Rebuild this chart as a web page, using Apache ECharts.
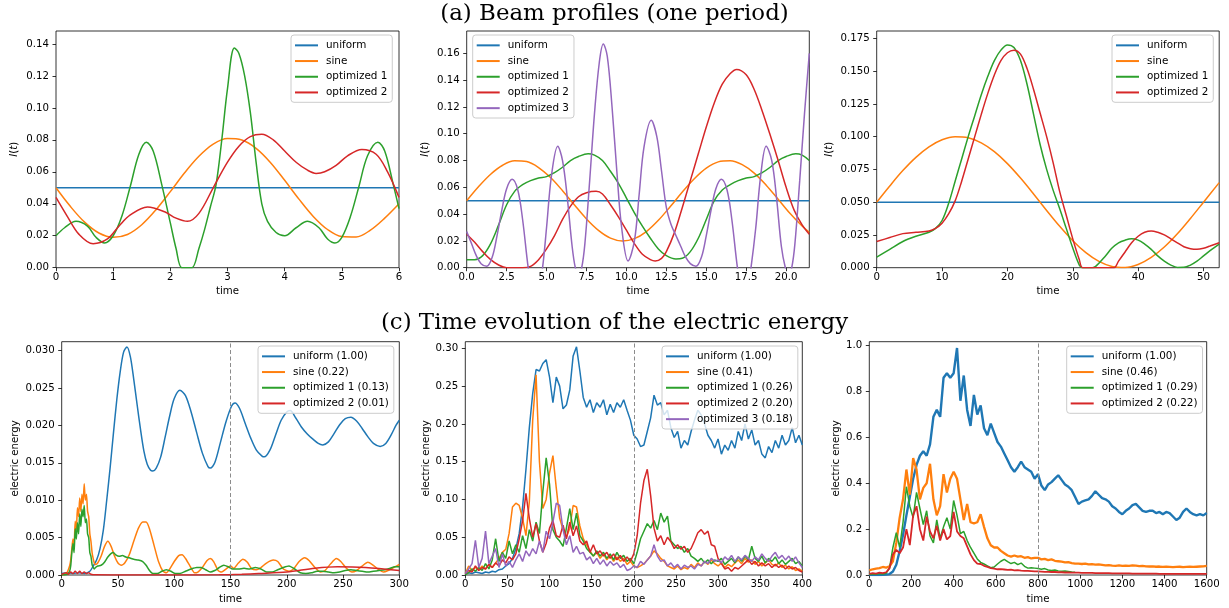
<!DOCTYPE html>
<html><head><meta charset="utf-8">
<script src="https://cdn.jsdelivr.net/npm/echarts@6/dist/echarts.min.js"></script>
<style>html,body{margin:0;padding:0;background:#fff}#c{width:1229px;height:608px}</style>
</head><body><div id="c"></div>
<script>
// ---------- colours ----------
const C_UNI = '#1f77b4', C_SIN = '#ff7f0e', C_OP1 = '#2ca02c', C_OP2 = '#d62728', C_OP3 = '#9467bd';
const FONT = 'DejaVu Sans';

// ---------- titles ----------
const titleTop = '(a) Beam profiles (one period)';
const titleBottom = '(c) Time evolution of the electric energy';

// ---------- panel 1 (beam profile, period 6) ----------
const p1Names = ['uniform', 'sine', 'optimized 1', 'optimized 2'];
const p1Uniform = [[0, 0.05], [6, 0.05]];
const p1Sine = [[0,0.050],[0.25,0.0384],[0.5,0.0285],[0.75,0.0217],[1,0.019],[1.25,0.0208],[1.5,0.0269],[1.75,0.0363],[2,0.0476],[2.25,0.0594],[2.5,0.0697],[2.75,0.0773],[3,0.0808],[3.25,0.0799],[3.5,0.0747],[3.75,0.0659],[4,0.0547],[4.25,0.0429],[4.5,0.0321],[4.75,0.0239],[5,0.0195],[5.25,0.0192],[5.5,0.0235],[5.75,0.031],[6,0.040]];
const p1Opt1 = [[0,0.020],[0.15,0.025],[0.35,0.029],[0.55,0.026],[0.7,0.019],[0.85,0.0155],[1.0,0.020],[1.15,0.032],[1.3,0.051],[1.45,0.071],[1.58,0.0785],[1.7,0.073],[1.85,0.052],[2.0,0.028],[2.1,0.012],[2.2,0.0],[2.3,0.0],[2.38,0.0],[2.5,0.012],[2.6,0.024],[2.7,0.038],[2.8,0.052],[2.9,0.080],[3.0,0.112],[3.12,0.1375],[3.2,0.134],[3.3,0.120],[3.4,0.097],[3.5,0.066],[3.6,0.040],[3.7,0.029],[3.85,0.022],[4.0,0.020],[4.2,0.025],[4.4,0.029],[4.6,0.025],[4.75,0.018],[4.88,0.0155],[5.0,0.019],[5.15,0.032],[5.3,0.051],[5.45,0.070],[5.63,0.0785],[5.75,0.073],[5.9,0.052],[6.0,0.037]];
const p1Opt2 = [[0,0.044],[0.2,0.032],[0.4,0.021],[0.65,0.015],[0.9,0.018],[1.1,0.026],[1.3,0.033],[1.6,0.038],[1.9,0.035],[2.1,0.031],[2.3,0.029],[2.5,0.034],[2.75,0.050],[3.0,0.066],[3.2,0.076],[3.4,0.082],[3.6,0.0835],[3.8,0.080],[4.0,0.073],[4.2,0.066],[4.4,0.061],[4.55,0.059],[4.7,0.060],[4.9,0.064],[5.1,0.070],[5.35,0.074],[5.6,0.071],[5.8,0.060],[6.0,0.044]];
const p1XTicks = [0,1,2,3,4,5,6];
const p1YTicks = [0,0.02,0.04,0.06,0.08,0.10,0.12,0.14];

// ---------- panel 2 (beam profile, period ~21.45) ----------
const p2Names = ['uniform', 'sine', 'optimized 1', 'optimized 2', 'optimized 3'];
const p2Uniform = [[0,0.05],[21.45,0.05]];
const p2Sine = [[0,0.050],[0.75,0.0606],[1.5,0.0698],[2.25,0.0765],[3,0.0798],[3.75,0.0792],[4.5,0.0748],[5.25,0.0673],[6,0.0575],[6.75,0.0468],[7.5,0.0364],[8.25,0.0279],[9,0.0221],[9.75,0.0200],[10.5,0.0217],[11.25,0.0270],[12,0.0354],[12.75,0.0457],[13.5,0.0565],[14.25,0.0664],[15,0.0743],[15.75,0.0790],[16.5,0.0798],[17.25,0.0769],[18,0.0706],[18.75,0.0616],[19.5,0.0511],[20.25,0.0404],[21,0.0311],[21.45,0.0264]];
const p2Opt1 = [[0,0.006],[0.5,0.006],[1,0.009],[1.5,0.018],[2,0.032],[2.5,0.047],[3,0.057],[3.5,0.062],[4,0.065],[4.5,0.067],[5,0.068],[5.5,0.071],[6,0.075],[6.5,0.080],[7,0.083],[7.6,0.085],[8,0.084],[8.5,0.080],[9,0.072],[9.5,0.063],[10,0.052],[10.5,0.041],[11,0.031],[11.5,0.022],[12,0.014],[12.5,0.009],[13.1,0.0065],[13.5,0.007],[14,0.012],[14.5,0.022],[15,0.036],[15.5,0.050],[16,0.058],[16.5,0.062],[17,0.065],[17.5,0.067],[18,0.068],[18.5,0.071],[19,0.075],[19.5,0.080],[20,0.083],[20.6,0.085],[21,0.084],[21.45,0.080]];
const p2Opt2 = [[0,0.025],[0.5,0.019],[1,0.012],[1.5,0.006],[2,0.002],[2.5,0.0],[3,0.0],[3.5,0.0],[4,0.001],[4.5,0.006],[5,0.014],[5.5,0.024],[6,0.036],[6.5,0.046],[7,0.053],[7.5,0.056],[8.1,0.057],[8.5,0.055],[9,0.047],[9.5,0.038],[10,0.028],[10.5,0.018],[11,0.010],[11.5,0.006],[11.8,0.005],[12.2,0.007],[12.5,0.012],[13,0.026],[13.5,0.045],[14,0.065],[14.5,0.085],[15,0.105],[15.5,0.123],[16,0.137],[16.5,0.145],[16.9,0.148],[17.5,0.144],[18,0.133],[18.5,0.117],[19,0.099],[19.5,0.080],[20,0.060],[20.5,0.043],[21,0.032],[21.45,0.025]];
const p2Opt3 = [[0,0.027],[0.3,0.018],[0.6,0.009],[0.9,0.003],[1.25,0.001],[1.6,0.008],[1.9,0.024],[2.2,0.043],[2.5,0.059],[2.85,0.066],[3.2,0.058],[3.5,0.036],[3.85,0.0],[4.1,-0.018],[4.3,-0.024],[4.55,-0.012],[4.75,0.0],[5.0,0.030],[5.3,0.068],[5.7,0.0906],[6.0,0.080],[6.3,0.052],[6.6,0.016],[6.8,0.0],[7.0,-0.006],[7.2,0.0],[7.4,0.018],[7.7,0.065],[8.0,0.115],[8.3,0.153],[8.55,0.167],[8.8,0.158],[9.1,0.120],[9.4,0.072],[9.7,0.030],[10.1,0.005],[10.5,0.020],[10.8,0.055],[11.1,0.090],[11.55,0.110],[11.9,0.098],[12.2,0.072],[12.5,0.045],[12.8,0.032],[13.1,0.024],[13.4,0.016],[13.7,0.008],[14.0,0.003],[14.35,0.001],[14.7,0.008],[15.0,0.024],[15.3,0.043],[15.6,0.059],[15.95,0.066],[16.3,0.058],[16.6,0.036],[16.95,0.0],[17.2,-0.018],[17.4,-0.024],[17.65,-0.010],[17.8,0.0],[18.1,0.030],[18.4,0.068],[18.75,0.0906],[19.1,0.080],[19.4,0.052],[19.7,0.016],[19.95,0.0],[20.15,-0.006],[20.35,0.0],[20.55,0.018],[20.85,0.065],[21.15,0.115],[21.45,0.160]];
const p2XTicks = [0,2.5,5,7.5,10,12.5,15,17.5,20];
const p2YTicks = [0,0.02,0.04,0.06,0.08,0.10,0.12,0.14,0.16];

// ---------- panel 3 (beam profile, period ~52.4) ----------
const p3Names = ['uniform', 'sine', 'optimized 1', 'optimized 2'];
const p3Uniform = [[0,0.05],[52.4,0.05]];
const p3Sine = [[0,0.050],[2,0.0624],[4,0.0741],[6,0.0842],[8,0.0922],[10,0.0976],[12,0.0999],[14,0.0991],[16,0.0952],[18,0.0885],[20,0.0794],[22,0.0684],[24,0.0563],[26,0.0437],[28,0.0316],[30,0.0206],[32,0.0115],[34,0.0048],[36,0.0009],[38,0.0001],[40,0.0024],[42,0.0078],[44,0.0158],[46,0.0259],[48,0.0376],[50,0.050],[52.4,0.0649]];
const p3Opt1 = [[0,0.008],[2,0.014],[4,0.020],[6,0.024],[8,0.027],[9,0.030],[10,0.036],[11,0.049],[12,0.066],[13,0.083],[14,0.100],[15,0.116],[16,0.132],[17,0.146],[18,0.158],[19,0.166],[20,0.170],[21,0.168],[22,0.158],[23,0.140],[24,0.117],[25,0.094],[26,0.075],[27,0.059],[28,0.045],[29,0.030],[30,0.015],[31,0.002],[31.5,0.0],[33,0.0],[33.5,0.001],[35,0.009],[36,0.015],[37,0.019],[38,0.021],[39,0.022],[40,0.021],[41,0.018],[42,0.014],[43,0.009],[44,0.005],[45,0.002],[46,0.0002],[47,0.0003],[48,0.002],[49,0.005],[50,0.009],[51,0.013],[52.4,0.018]];
const p3Opt2 = [[0,0.020],[2,0.023],[4,0.026],[6,0.027],[8,0.028],[9,0.030],[10,0.034],[11,0.041],[12,0.051],[13,0.066],[14,0.083],[15,0.100],[16,0.117],[17,0.133],[18,0.147],[19,0.158],[20,0.164],[21,0.166],[22,0.163],[23,0.152],[24,0.136],[25,0.118],[26,0.100],[27,0.080],[28,0.058],[29,0.040],[30,0.022],[31,0.006],[31.5,0.0],[33,0.0],[35,0.0],[36.3,0.0],[37,0.005],[38,0.012],[39,0.019],[40,0.024],[41,0.027],[42,0.028],[43,0.027],[44,0.025],[45,0.022],[46,0.019],[47,0.016],[48,0.0145],[49,0.014],[50,0.0148],[51,0.0165],[52.4,0.019]];
const p3XTicks = [0,10,20,30,40,50];
const p3YTicks = [0,0.025,0.05,0.075,0.1,0.125,0.15,0.175];

// ---------- panel 4 (electric energy, 0..300) ----------
const p4Names = ['uniform (1.00)', 'sine (0.22)', 'optimized 1 (0.13)', 'optimized 2 (0.01)'];
const p4Uniform = [[0,0.0002],[5,0.0003],[10,0.0002],[15,0.0003],[20,0.0002],[25,0.0005],[28,0.0012],[31,0.0020],[34,0.0035],[37,0.0060],[40,0.0100],[43,0.0143],[46,0.0190],[49,0.0235],[52,0.0272],[55,0.0298],[58,0.0305],[61,0.0292],[64,0.0262],[67,0.0228],[70,0.0195],[73,0.0166],[76,0.0148],[79,0.0140],[81,0.0139],[84,0.0143],[88,0.0158],[92,0.0185],[96,0.0213],[100,0.0236],[105,0.0247],[110,0.0240],[115,0.0218],[120,0.0190],[125,0.0163],[130,0.0145],[132,0.0143],[136,0.0150],[141,0.0177],[146,0.0205],[151,0.0226],[154,0.0230],[158,0.0223],[163,0.0203],[168,0.0183],[173,0.0167],[178,0.0159],[180,0.0158],[185,0.0167],[190,0.0187],[195,0.0207],[200,0.0218],[203,0.0220],[208,0.0210],[213,0.0198],[218,0.0189],[223,0.0182],[228,0.0176],[232,0.0174],[237,0.0178],[242,0.0189],[247,0.0201],[252,0.0209],[257,0.0211],[262,0.0206],[267,0.0196],[272,0.0185],[277,0.0176],[283,0.0172],[288,0.0176],[293,0.0188],[297,0.0200],[300,0.0207]];
const p4Sine = [[0,0.0],[3,0.0001],[5,0.0004],[7,0.0012],[8,0.0020],[9,0.0035],[10,0.0048],[11,0.0040],[12,0.0072],[13,0.0060],[14,0.0090],[15,0.0078],[16,0.0103],[17,0.0085],[18,0.0108],[19,0.0095],[20,0.0122],[21,0.0100],[22,0.0108],[23,0.0085],[24,0.0078],[25,0.0055],[26,0.0045],[27,0.0030],[28,0.0022],[29,0.0016],[30,0.0014],[32,0.0016],[35,0.0025],[38,0.0038],[41,0.0045],[44,0.0038],[47,0.0025],[50,0.0016],[53,0.0013],[56,0.0016],[60,0.0027],[64,0.0045],[68,0.0062],[72,0.0071],[75,0.0071],[78,0.0062],[82,0.0040],[86,0.0018],[90,0.0005],[93,0.0003],[96,0.0008],[100,0.0018],[104,0.0026],[107,0.0027],[110,0.0022],[114,0.0012],[118,0.0003],[121,0.0004],[125,0.0010],[129,0.0019],[132,0.0022],[135,0.0018],[139,0.0006],[142,0.0004],[146,0.0008],[150,0.0012],[153,0.0009],[157,0.0016],[161,0.0021],[165,0.0017],[169,0.0008],[173,0.0007],[177,0.0010],[182,0.0016],[188,0.0020],[192,0.0018],[197,0.0008],[202,0.0005],[206,0.0008],[211,0.0018],[216,0.0023],[220,0.0019],[225,0.0010],[230,0.0004],[234,0.0006],[239,0.0015],[244,0.0022],[248,0.0018],[253,0.0009],[258,0.0004],[262,0.0006],[267,0.0012],[272,0.0017],[276,0.0014],[281,0.0008],[286,0.0004],[290,0.0006],[295,0.0010],[300,0.0014]];
const p4Opt1 = [[0,0.0],[5,0.0001],[7,0.0005],[8,0.0012],[9,0.0030],[10,0.0042],[11,0.0030],[12,0.0062],[13,0.0048],[14,0.0070],[15,0.0055],[16,0.0082],[17,0.0065],[18,0.0088],[19,0.0078],[20,0.0093],[21,0.0070],[22,0.0075],[23,0.0055],[24,0.0050],[25,0.0030],[26,0.0025],[27,0.0014],[28,0.0010],[29,0.0008],[30,0.0010],[32,0.0012],[35,0.0013],[38,0.0017],[41,0.0024],[44,0.0029],[46,0.0030],[48,0.0027],[51,0.0025],[54,0.0026],[57,0.0024],[60,0.0023],[64,0.0021],[68,0.0020],[72,0.0018],[75,0.0013],[78,0.0006],[81,0.0002],[85,0.0002],[89,0.0005],[93,0.0007],[97,0.0005],[101,0.0002],[105,0.0002],[110,0.0005],[115,0.0008],[120,0.0010],[124,0.0010],[128,0.0007],[132,0.0004],[136,0.0006],[140,0.0010],[144,0.0013],[148,0.0011],[152,0.0008],[157,0.0008],[162,0.0009],[167,0.0008],[172,0.0010],[177,0.0008],[182,0.0004],[187,0.0004],[192,0.0007],[197,0.0010],[202,0.0012],[207,0.0008],[212,0.0003],[217,0.0002],[222,0.0003],[227,0.0005],[232,0.0005],[237,0.0004],[242,0.0003],[247,0.0004],[252,0.0006],[257,0.0007],[262,0.0006],[267,0.0005],[272,0.0004],[277,0.0005],[282,0.0006],[287,0.0007],[292,0.0009],[296,0.0011],[300,0.0011]];
const p4Opt2 = [[0,0.0001],[4,0.0003],[6,0.0001],[8,0.0004],[10,0.0002],[12,0.0005],[14,0.0002],[16,0.0005],[18,0.0002],[20,0.0004],[22,0.0002],[24,0.0003],[26,0.0001],[30,0.00002],[50,0.0],[100,0.0],[140,0.00002],[160,0.0001],[175,0.0002],[200,0.0004],[225,0.0009],[245,0.0011],[270,0.0010],[300,0.0006]];
const p4XTicks = [0,50,100,150,200,250,300];
const p4YTicks = [0,0.005,0.010,0.015,0.020,0.025,0.030];
const p4Marker = 150;

// ---------- panel 5 (electric energy, 0..400, sampled every 4) ----------
const p5Names = ['uniform (1.00)', 'sine (0.41)', 'optimized 1 (0.26)', 'optimized 2 (0.20)', 'optimized 3 (0.18)'];
const p5Step = 4;
const p5Uniform = [0.002,0.003,0.002,0.004,0.003,0.002,0.004,0.003,0.005,0.004,
0.007,0.008,0.012,0.015,0.022,0.035,0.055,0.090,0.140,0.195,
0.240,0.272,0.270,0.280,0.285,0.262,0.228,0.262,0.250,0.220,
0.225,0.245,0.290,0.302,0.270,0.235,0.222,0.232,0.215,0.228,
0.222,0.232,0.212,0.226,0.215,0.228,0.222,0.232,0.218,0.205,
0.185,0.180,0.170,0.172,0.190,0.208,0.238,0.225,0.228,0.212,
0.218,0.195,0.182,0.190,0.168,0.178,0.172,0.190,0.205,0.218,
0.212,0.200,0.185,0.178,0.168,0.180,0.160,0.172,0.165,0.178,
0.168,0.190,0.178,0.200,0.180,0.192,0.172,0.178,0.160,0.155,
0.170,0.162,0.178,0.168,0.185,0.172,0.178,0.195,0.175,0.185,
0.172];
const p5Sine = [0.002,0.012,0.006,0.010,0.007,0.012,0.008,0.014,0.010,0.016,
0.022,0.030,0.034,0.055,0.090,0.095,0.092,0.075,0.052,0.097,
0.205,0.265,0.150,0.088,0.100,0.135,0.158,0.115,0.075,0.060,
0.050,0.062,0.092,0.090,0.065,0.048,0.040,0.032,0.025,0.030,
0.022,0.028,0.020,0.026,0.018,0.024,0.018,0.022,0.014,0.018,
0.012,0.010,0.012,0.015,0.020,0.025,0.032,0.028,0.022,0.018,
0.012,0.010,0.008,0.012,0.007,0.010,0.008,0.014,0.010,0.016,
0.012,0.018,0.014,0.020,0.015,0.012,0.016,0.010,0.014,0.011,
0.016,0.020,0.015,0.022,0.017,0.020,0.014,0.018,0.012,0.016,
0.020,0.014,0.012,0.016,0.010,0.013,0.008,0.011,0.006,0.008,
0.005];
const p5Opt1 = [0.000,0.003,0.008,0.005,0.010,0.006,0.015,0.008,0.020,0.048,
0.018,0.030,0.022,0.045,0.028,0.040,0.030,0.052,0.035,0.060,
0.045,0.070,0.055,0.110,0.155,0.120,0.060,0.050,0.045,0.038,
0.062,0.088,0.060,0.082,0.052,0.045,0.035,0.030,0.025,0.032,
0.025,0.030,0.022,0.028,0.020,0.030,0.022,0.026,0.018,0.022,
0.015,0.030,0.048,0.058,0.068,0.062,0.072,0.060,0.082,0.070,
0.078,0.045,0.040,0.035,0.038,0.030,0.035,0.025,0.022,0.018,
0.022,0.016,0.020,0.015,0.020,0.018,0.022,0.014,0.018,0.022,
0.016,0.024,0.018,0.025,0.020,0.038,0.022,0.018,0.025,0.016,
0.022,0.018,0.024,0.015,0.020,0.014,0.018,0.022,0.015,0.018,
0.012];
const p5Opt2 = [0.002,0.006,0.004,0.012,0.006,0.010,0.008,0.014,0.010,0.016,
0.012,0.020,0.016,0.024,0.020,0.028,0.048,0.072,0.108,0.075,
0.050,0.068,0.045,0.030,0.042,0.062,0.072,0.052,0.050,0.066,
0.048,0.070,0.052,0.065,0.045,0.040,0.045,0.030,0.040,0.028,
0.032,0.025,0.030,0.022,0.028,0.020,0.026,0.018,0.024,0.018,
0.028,0.052,0.095,0.125,0.140,0.105,0.062,0.045,0.052,0.040,
0.050,0.044,0.035,0.040,0.034,0.038,0.030,0.035,0.045,0.056,
0.060,0.054,0.058,0.040,0.038,0.022,0.015,0.008,0.010,0.005,
0.010,0.008,0.012,0.016,0.020,0.014,0.018,0.012,0.016,0.012,
0.015,0.010,0.014,0.010,0.013,0.008,0.012,0.008,0.010,0.006,
0.004];
const p5Opt3 = [0.002,0.008,0.015,0.046,0.010,0.022,0.058,0.015,0.025,0.035,
0.010,0.028,0.012,0.018,0.010,0.020,0.028,0.018,0.032,0.025,
0.035,0.028,0.045,0.030,0.058,0.048,0.070,0.095,0.092,0.060,
0.040,0.052,0.030,0.038,0.028,0.030,0.020,0.024,0.015,0.022,
0.014,0.020,0.012,0.018,0.013,0.016,0.010,0.014,0.006,0.008,
0.012,0.010,0.018,0.014,0.020,0.025,0.040,0.025,0.018,0.020,
0.012,0.016,0.010,0.014,0.008,0.013,0.010,0.012,0.008,0.014,
0.012,0.018,0.015,0.022,0.018,0.020,0.016,0.024,0.020,0.026,
0.018,0.024,0.020,0.026,0.022,0.018,0.024,0.020,0.028,0.022,
0.018,0.025,0.030,0.022,0.026,0.020,0.025,0.018,0.024,0.016,
0.010];
const p5XTicks = [0,50,100,150,200,250,300,350,400];
const p5YTicks = [0,0.05,0.10,0.15,0.20,0.25,0.30];
const p5Marker = 200;

// ---------- panel 6 (electric energy, 0..1600, sampled every 16) ----------
const p6Names = ['uniform (1.00)', 'sine (0.46)', 'optimized 1 (0.29)', 'optimized 2 (0.22)'];
const p6Step = 16;
const p6Uniform = [0.000,0.000,0.001,0.000,0.001,0.002,0.004,0.015,0.045,0.105,
0.175,0.260,0.340,0.420,0.480,0.520,0.540,0.520,0.570,0.690,
0.720,0.690,0.860,0.880,0.860,0.880,0.990,0.760,0.870,0.720,
0.650,0.785,0.700,0.740,0.640,0.610,0.660,0.620,0.580,0.560,
0.530,0.500,0.470,0.450,0.470,0.495,0.470,0.460,0.450,0.420,
0.440,0.390,0.370,0.395,0.405,0.420,0.435,0.415,0.395,0.385,
0.370,0.340,0.310,0.320,0.325,0.330,0.345,0.365,0.350,0.335,
0.330,0.320,0.300,0.290,0.275,0.265,0.280,0.290,0.305,0.310,
0.295,0.280,0.275,0.280,0.280,0.270,0.275,0.265,0.275,0.270,
0.255,0.240,0.250,0.275,0.290,0.275,0.265,0.260,0.265,0.260,
0.270];
const p6Sine = [0.020,0.025,0.028,0.030,0.035,0.032,0.038,0.060,0.140,0.250,
0.330,0.460,0.350,0.510,0.460,0.330,0.380,0.400,0.485,0.330,
0.260,0.300,0.440,0.360,0.420,0.450,0.420,0.330,0.240,0.310,
0.230,0.225,0.230,0.265,0.210,0.160,0.130,0.120,0.120,0.105,
0.095,0.085,0.080,0.085,0.080,0.082,0.075,0.078,0.072,0.075,
0.075,0.068,0.070,0.065,0.068,0.062,0.060,0.058,0.055,0.056,
0.052,0.050,0.050,0.048,0.050,0.046,0.047,0.045,0.046,0.044,
0.042,0.043,0.041,0.040,0.042,0.040,0.041,0.040,0.042,0.041,
0.039,0.040,0.038,0.037,0.038,0.036,0.037,0.035,0.036,0.035,
0.034,0.035,0.036,0.034,0.035,0.036,0.035,0.036,0.037,0.038,
0.040];
const p6Opt1 = [0.002,0.004,0.003,0.006,0.004,0.008,0.030,0.120,0.185,0.120,
0.230,0.385,0.300,0.250,0.360,0.290,0.220,0.280,0.170,0.140,
0.240,0.160,0.210,0.250,0.200,0.325,0.260,0.180,0.190,0.150,
0.120,0.095,0.070,0.055,0.048,0.040,0.032,0.035,0.048,0.060,
0.068,0.058,0.050,0.055,0.045,0.052,0.038,0.030,0.032,0.030,
0.028,0.025,0.028,0.022,0.020,0.022,0.018,0.016,0.017,0.015,
0.013,0.012];
const p6Opt2 = [0.005,0.008,0.006,0.010,0.008,0.012,0.030,0.090,0.110,0.095,
0.120,0.200,0.130,0.260,0.300,0.200,0.150,0.255,0.190,0.160,
0.215,0.150,0.200,0.155,0.170,0.275,0.190,0.170,0.160,0.125,
0.090,0.065,0.050,0.048,0.040,0.035,0.030,0.028,0.025,0.026,
0.024,0.022,0.023,0.020,0.021,0.019,0.018,0.018,0.017,0.016,
0.016,0.015,0.014,0.014,0.013,0.013,0.012,0.012,0.011,0.011,
0.010,0.010,0.010,0.009,0.009,0.009,0.009,0.008,0.008,0.008,
0.008,0.008,0.007,0.007,0.007,0.007,0.007,0.007,0.006,0.006,
0.006,0.006,0.006,0.006,0.006,0.006,0.005,0.005,0.005,0.005,
0.005,0.005,0.005,0.005,0.005,0.005,0.005,0.005,0.005,0.005,
0.005];
const p6XTicks = [0,200,400,600,800,1000,1200,1400,1600];
const p6YTicks = [0,0.2,0.4,0.6,0.8,1.0];
const p6Marker = 800;

// ---------- helpers ----------
function withTime(vals, step) { return vals.map((v, i) => [i * step, v]); }

const grids = [
  {left:56,    top:31,    width:343,   height:236.7},
  {left:466.7, top:31,    width:342.6, height:236.7},
  {left:876.7, top:31,    width:342.5, height:236.7},
  {left:61.7,  top:341.7, width:337.6, height:233.3},
  {left:465.3, top:341.7, width:337,   height:233.3},
  {left:869.3, top:341.7, width:337.4, height:233.3}
].map(g => Object.assign({show:true, borderColor:'#000', borderWidth:0.8, backgroundColor:'transparent', containLabel:false, outerBoundsMode:'none'}, g));

const tickStyle = {length:3.5, inside:false, lineStyle:{color:'#000', width:0.8}};
function xAx(i, max, ticks, dec) {
  return {type:'value', gridIndex:i, min:0, max:max, name:'time', nameLocation:'middle', nameGap:19,
    nameTextStyle:{fontFamily:FONT, fontSize:10.2, color:'#000'},
    axisLine:{show:false}, splitLine:{show:false},
    axisTick:Object.assign({show:true, customValues:ticks}, tickStyle),
    axisLabel:{show:true, customValues:ticks, formatter:v => v.toFixed(dec), margin:4.5, fontFamily:FONT, fontSize:10.2, color:'#000', hideOverlap:false}};
}
function yAx(i, max, ticks, dec, name, gap) {
  return {type:'value', gridIndex:i, min:0, max:max, name:name, nameLocation:'middle', nameGap:gap,
    nameTextStyle:{fontFamily:FONT, fontSize:10.2, color:'#000', rich:{i:{fontFamily:FONT, fontStyle:'italic', fontSize:10.2, color:'#000'}}},
    axisLine:{show:false}, splitLine:{show:false},
    axisTick:Object.assign({show:true, customValues:ticks}, tickStyle),
    axisLabel:{show:true, customValues:ticks, formatter:v => v.toFixed(dec), margin:7, fontFamily:FONT, fontSize:10.2, color:'#000', hideOverlap:false}};
}
function ser(name, data, idx, color, extra) {
  return Object.assign({type:'line', name:name, data:data, xAxisIndex:idx, yAxisIndex:idx,
    symbol:'none', showSymbol:false, clip:true, silent:true, animation:false,
    emphasis:{disabled:true}, lineStyle:{color:color, width:1.5}, itemStyle:{color:color}}, extra || {});
}
function mark(x) {
  return {markLine:{silent:true, symbol:['none','none'], label:{show:false}, animation:false,
    lineStyle:{type:[4,2.5], color:'#8c8c8c', width:1}, data:[{xAxis:x}]}};
}
function leg(names, left, top) {
  return {show:true, orient:'vertical', left:left, top:top, data:names, icon:'rect',
    itemWidth:23, itemHeight:2, itemGap:0, padding:[2.5,5,2,4], selectedMode:false,
    backgroundColor:'rgba(255,255,255,0.8)', borderColor:'#cccccc', borderWidth:1, borderRadius:3, z:10,
    textStyle:{fontFamily:FONT, fontSize:10.4, color:'#000', lineHeight:15.7, padding:[0,0,0,3]}};
}

const S1 = {smooth:0.35};
const series = [
  ser(p1Names[0], p1Uniform, 0, C_UNI),
  ser(p1Names[1], p1Sine, 0, C_SIN, S1),
  ser(p1Names[2], p1Opt1, 0, C_OP1, S1),
  ser(p1Names[3], p1Opt2, 0, C_OP2, S1),

  ser(p2Names[0], p2Uniform, 1, C_UNI),
  ser(p2Names[1], p2Sine, 1, C_SIN, S1),
  ser(p2Names[2], p2Opt1, 1, C_OP1, S1),
  ser(p2Names[3], p2Opt2, 1, C_OP2, S1),
  ser(p2Names[4], p2Opt3, 1, C_OP3, S1),

  ser(p3Names[0], p3Uniform, 2, C_UNI),
  ser(p3Names[1], p3Sine, 2, C_SIN, S1),
  ser(p3Names[2], p3Opt1, 2, C_OP1, S1),
  ser(p3Names[3], p3Opt2, 2, C_OP2, S1),

  ser(p4Names[0], p4Uniform, 3, C_UNI, Object.assign({smooth:0.3}, mark(p4Marker))),
  ser(p4Names[1], p4Sine, 3, C_SIN, {smooth:0.2}),
  ser(p4Names[2], p4Opt1, 3, C_OP1, {smooth:0.2}),
  ser(p4Names[3], p4Opt2, 3, C_OP2, {smooth:0.3}),

  ser(p5Names[0], withTime(p5Uniform, p5Step), 4, C_UNI, mark(p5Marker)),
  ser(p5Names[1], withTime(p5Sine, p5Step), 4, C_SIN),
  ser(p5Names[2], withTime(p5Opt1, p5Step), 4, C_OP1),
  ser(p5Names[3], withTime(p5Opt2, p5Step), 4, C_OP2),
  ser(p5Names[4], withTime(p5Opt3, p5Step), 4, C_OP3),

  ser(p6Names[0], withTime(p6Uniform, p6Step), 5, C_UNI, Object.assign({lineStyle:{color:C_UNI, width:2.4}}, mark(p6Marker))),
  ser(p6Names[1], withTime(p6Sine, p6Step), 5, C_SIN, {lineStyle:{color:C_SIN, width:2.3}}),
  ser(p6Names[2], withTime(p6Opt1, p6Step), 5, C_OP1),
  ser(p6Names[3], withTime(p6Opt2, p6Step), 5, C_OP2, {lineStyle:{color:C_OP2, width:1.8}})
];

const IT = '{i|I}({i|t})';
const option = {
  animation:false,
  backgroundColor:'#fff',
  grid:grids,
  xAxis:[xAx(0,6,p1XTicks,0), xAx(1,21.45,p2XTicks,1), xAx(2,52.4,p3XTicks,0),
         xAx(3,300,p4XTicks,0), xAx(4,400,p5XTicks,0), xAx(5,1600,p6XTicks,0)],
  yAxis:[yAx(0,0.1481,p1YTicks,2,IT,36.7), yAx(1,0.1767,p2YTicks,2,IT,36.7), yAx(2,0.1806,p3YTicks,3,IT,42.4),
         yAx(3,0.0312,p4YTicks,3,'electric energy',41.5), yAx(4,0.3088,p5YTicks,2,'electric energy',34.3), yAx(5,1.0174,p6YTicks,1,'electric energy',27.6)],
  legend:[leg(p1Names,291,35), leg(p2Names,472.7,35), leg(p3Names,1112,35),
          leg(p4Names,258,346), leg(p5Names,662,346), leg(p6Names,1066.7,346)],
  graphic:[
    {type:'text', silent:true, style:{text:titleTop, x:614.5, y:13.9, align:'center', verticalAlign:'middle', textAlign:'center', textVerticalAlign:'middle', font:'22.9px "DejaVu Serif"', fill:'#000'}},
    {type:'text', silent:true, style:{text:titleBottom, x:614.5, y:323.1, align:'center', verticalAlign:'middle', textAlign:'center', textVerticalAlign:'middle', font:'22.9px "DejaVu Serif"', fill:'#000'}}
  ],
  series:series
};
const chart = echarts.init(document.getElementById('c'), null, {renderer:'canvas', width:1229, height:608});
chart.setOption(option);
</script></body></html>
